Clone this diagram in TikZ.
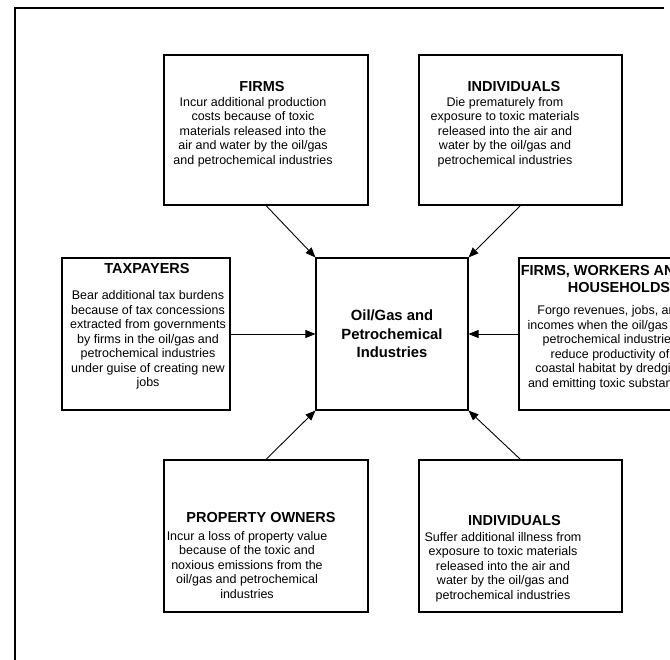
\documentclass[tikz,border=0pt]{standalone}
\usepackage{fontspec}
\setmainfont{Liberation Sans}
\usetikzlibrary{arrows.meta}
\usetikzlibrary{positioning}

\begin{document}
\begin{tikzpicture}[x=1pt, y=-1pt,
    box/.style={draw, line width=1.1pt, inner sep=0pt},
    boxtitle/.style={align=center, inner sep=0pt, font=\bfseries\fontsize{14.5}{17}\selectfont},
    boxtext/.style={align=center, inner sep=0pt, font=\fontsize{12.5}{14.5}\selectfont},
    effect/.style={-{Triangle[length=10pt,width=8pt]}, line width=0.9pt}]
  \useasboundingbox (0,0) rectangle (670,660);
  \clip (0,0) rectangle (670,660);
  \draw[line width=1.3pt] (664,8) -- (15,8) -- (15,662);

  % boxes
  \node[box, minimum width=204pt, minimum height=150pt] (firms) at (266,130) {};
  \node[box, minimum width=203pt, minimum height=150pt] (indivtop) at (520.5,130) {};
  \node[box, minimum width=168pt, minimum height=152pt] (taxpayers) at (146,334) {};
  \node[box, minimum width=152pt, minimum height=152pt, align=center,
        font=\bfseries\fontsize{14.8}{18.5}\selectfont] (oilgas) at (392,334) {Oil/Gas and\\Petrochemical\\Industries};
  \node[box, minimum width=170pt, minimum height=152pt] (workers) at (604,334) {};
  \node[box, minimum width=204pt, minimum height=152pt] (owners) at (266,536) {};
  \node[box, minimum width=203pt, minimum height=152pt] (indivbot) at (520.5,536) {};

  % titles
  \node[boxtitle] (firmstitle) at (262,87) {FIRMS};
  \node[boxtitle] (indivtoptitle) at (514,87) {INDIVIDUALS};
  \node[boxtitle] (taxpayerstitle) at (147,269) {TAXPAYERS};
  \node[boxtitle] (workerstitle) at (603,279) {FIRMS, WORKERS AND\\\hspace*{32pt}HOUSEHOLDS};
  \node[boxtitle] (ownerstitle) at (261,518) {PROPERTY OWNERS};
  \node[boxtitle] (indivbottitle) at (514.5,521) {INDIVIDUALS};

  % texts
  \node[boxtext] (firmstext) at (253,132) {Incur additional production\\costs because of toxic\\
    materials released into the\\air and water by the oil/gas\\and petrochemical industries};
  \node[boxtext] (indivtoptext) at (505,132) {Die prematurely from\\exposure to toxic materials\\
    released into the air and\\water by the oil/gas and\\petrochemical industries};
  \node[boxtext] (taxpayerstext) at (148,340) {Bear additional tax burdens\\because of tax concessions\\
    extracted from governments\\by firms in the oil/gas and\\petrochemical industries\\
    under guise of creating new\\jobs};
  \node[boxtext] (workerstext) at (610,348) {Forgo revenues, jobs, and\\incomes when the oil/gas and\\
    petrochemical industries\\reduce productivity of\\coastal habitat by dredging\\
    and emitting toxic substances};
  \node[boxtext] (ownerstext) at (247,565) {Incur a loss of property value\\because of the toxic and\\
    noxious emissions from the\\oil/gas and petrochemical\\industries};
  \node[boxtext] (indivbottext) at (503,567) {Suffer additional illness from\\exposure to toxic materials\\
    released into the air and\\water by the oil/gas and\\petrochemical industries};

  % effects on the industries
  \draw[effect] (firms.south) -- (oilgas.north west);
  \draw[effect] (indivtop.south) -- (oilgas.north east);
  \draw[effect] (taxpayers.east) -- (oilgas.west);
  \draw[effect] (workers.west) -- (oilgas.east);
  \draw[effect] (owners.north) -- (oilgas.south west);
  \draw[effect] (indivbot.north) -- (oilgas.south east);
\end{tikzpicture}
\end{document}
